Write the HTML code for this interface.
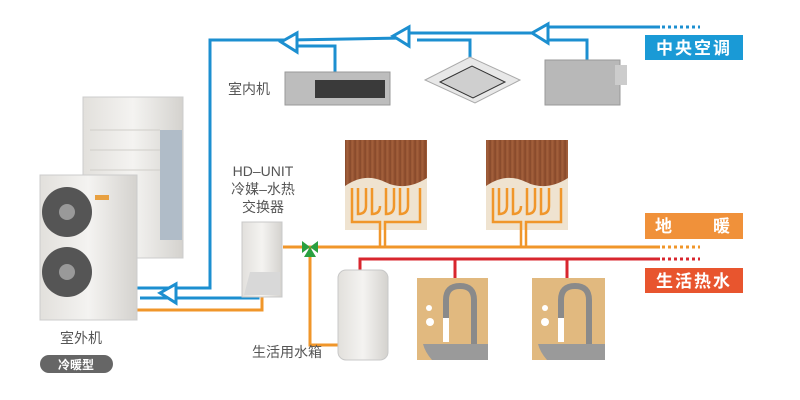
<!DOCTYPE html>
<html><head><meta charset="utf-8"><style>
body{margin:0;background:#fff}
svg{display:block}
text{font-family:"Liberation Sans","Noto Sans CJK SC",sans-serif}
</style></head><body>
<svg width="800" height="400" viewBox="0 0 800 400" xmlns="http://www.w3.org/2000/svg">
<defs>
<linearGradient id="wood" x1="0" x2="1"><stop offset="0" stop-color="#8e4e2e"/><stop offset="0.5" stop-color="#a3603c"/><stop offset="1" stop-color="#8a4a2a"/></linearGradient>
<linearGradient id="gr" x1="0" x2="1"><stop offset="0" stop-color="#e2e0dc"/><stop offset="0.5" stop-color="#f4f3f1"/><stop offset="1" stop-color="#d4d2ce"/></linearGradient>
<pattern id="stripe" width="5" height="10" patternUnits="userSpaceOnUse"><rect width="5" height="10" fill="url(#wood)"/><rect width="1" height="10" fill="#7a4226" opacity=".35"/></pattern>
</defs>
<!-- blue lines -->
<g fill="none" stroke="#1c8fd0" stroke-width="3">
<polyline points="660,27 545,27 545,33 405,33 405,38 290,40 210,40 210,288 135,288"/>
<polyline points="547,40 587,40 587,60"/>
<polyline points="417,40 470,40 470,57"/>
<polyline points="297,46 335,46 335,72"/>
<polyline points="258,292 258,298 140,298"/>
</g>
<g fill="#fff" stroke="#1c8fd0" stroke-width="3">
<polygon points="532,33 548,24 548,43"/>
<polygon points="393,36 409,27 409,46"/>
<polygon points="281,42 297,33 297,52"/>
<polygon points="160,293 176,284 176,303"/>
</g>
<g stroke="#1c8fd0" stroke-width="3" stroke-dasharray="3,3"><line x1="662" y1="27" x2="700" y2="27"/></g>
<!-- orange -->
<g fill="none" stroke="#f0962a" stroke-width="3">
<polyline points="262,297 262,310 137,310"/>
<line x1="283" y1="247" x2="660" y2="247"/>
<polyline points="310,247 310,345 340,345"/>
</g>
<line x1="662" y1="247" x2="700" y2="247" stroke="#f0962a" stroke-width="3" stroke-dasharray="3,3"/>
<!-- red -->
<g fill="none" stroke="#d8262e" stroke-width="3">
<polyline points="360,276 360,259 660,259"/>
<line x1="455" y1="259" x2="455" y2="278"/>
<line x1="567" y1="259" x2="567" y2="278"/>
</g>
<line x1="662" y1="259" x2="700" y2="259" stroke="#d8262e" stroke-width="3" stroke-dasharray="3,3"/>
<!-- valve -->
<polygon points="302,241 310,247 302,253" fill="#2aa040"/><polygon points="318,241 310,247 318,253" fill="#2aa040"/><polygon points="304,257 310,247 316,257" fill="#2aa040"/>
<!-- floor panels -->
<g>
<rect x="345" y="140" width="82" height="90" fill="#efe3d0"/>
<path d="M345,140 H427 V178 Q405,192 385,182 Q365,172 345,186 Z" fill="url(#stripe)"/>
<rect x="486" y="140" width="82" height="90" fill="#efe3d0"/>
<path d="M486,140 H568 V178 Q546,192 526,182 Q506,172 486,186 Z" fill="url(#stripe)"/>
<g fill="none" stroke="#f0962a" stroke-width="2.5">
<path d="M352,188 V222 H380 V247 M358,188 V214 Q366,214 366,206 V188 M372,188 V214 Q380,214 380,206 M385,247 V222 H420 V188 M386,188 V214 Q394,214 394,206 V188 M400,188 V214 Q408,214 408,206 V188"/>
<path d="M493,188 V222 H521 V247 M499,188 V214 Q507,214 507,206 V188 M513,188 V214 Q521,214 521,206 M526,247 V222 H561 V188 M527,188 V214 Q535,214 535,206 V188 M541,188 V214 Q549,214 549,206 V188"/>
</g>
</g>
<!-- sinks -->
<g>
<rect x="417" y="278" width="71" height="82" fill="#e1b97f"/>
<rect x="532" y="278" width="73" height="82" fill="#e1b97f"/>
<path d="M446,318 V300 Q446,286 460,286 Q474,286 474,300 V345" fill="none" stroke="#8a8a8a" stroke-width="6"/>
<path d="M561,318 V300 Q561,286 575,286 Q589,286 589,300 V345" fill="none" stroke="#8a8a8a" stroke-width="6"/>
<rect x="443" y="318" width="6" height="24" fill="#fff"/><rect x="558" y="318" width="6" height="24" fill="#fff"/>
<path d="M423,344 H488 V360 H432 Q425,352 423,344Z" fill="#9a9a9a"/>
<path d="M538,344 H605 V360 H547 Q540,352 538,344Z" fill="#9a9a9a"/>
<circle cx="430" cy="322" r="4" fill="#fff"/><circle cx="429" cy="308" r="3" fill="#fff"/><circle cx="545" cy="322" r="4" fill="#fff"/><circle cx="545" cy="308" r="3" fill="#fff"/>
</g>
<!-- tank -->
<rect x="338" y="270" width="50" height="90" rx="8" fill="url(#gr)" stroke="#c8c8c8"/>
<!-- HD unit -->
<rect x="242" y="222" width="40" height="75" fill="url(#gr)" stroke="#c8c8c8"/>
<path d="M244,295 L250,272 H280 V295Z" fill="#d8d8d8"/>
<!-- indoor units -->
<rect x="285" y="72" width="105" height="33" fill="#bdbdbd" stroke="#999"/>
<rect x="315" y="80" width="70" height="18" fill="#3a3a3a"/>
<path d="M425,80 L470,57 L520,80 L475,103Z" fill="#e8e8e8" stroke="#aaa"/>
<path d="M440,82 L472,66 L505,82 L473,98Z" fill="#cfcfcf" stroke="#333"/>
<rect x="545" y="60" width="75" height="45" fill="#b8b8b8" stroke="#999"/>
<rect x="615" y="65" width="12" height="20" fill="#ccc"/>
<!-- outdoor units -->
<rect x="83" y="97" width="100" height="161" fill="url(#gr)" stroke="#ccc"/>
<g stroke="#d0cec9" stroke-width="1"><line x1="90" y1="130" x2="160" y2="130"/><line x1="90" y1="150" x2="160" y2="150"/><line x1="90" y1="170" x2="160" y2="170"/></g>
<rect x="160" y="130" width="22" height="110" fill="#b0bcc8"/>
<rect x="40" y="175" width="97" height="145" fill="url(#gr)" stroke="#ccc"/>
<circle cx="67" cy="212" r="25" fill="#555"/><circle cx="67" cy="212" r="8" fill="#999"/>
<circle cx="67" cy="272" r="25" fill="#555"/><circle cx="67" cy="272" r="8" fill="#999"/>
<rect x="95" y="195" width="14" height="5" fill="#e8a040"/>
<!-- labels -->
<rect x="645" y="35" width="98" height="25" fill="#1a9ad6"/>
<text x="694" y="54" font-size="17" font-weight="bold" fill="#fff" text-anchor="middle" letter-spacing="2">中央空调</text>
<rect x="645" y="213" width="98" height="26" fill="#f0913a"/>
<text x="655" y="232" font-size="17" font-weight="bold" fill="#fff">地</text><text x="713" y="232" font-size="17" font-weight="bold" fill="#fff">暖</text>
<rect x="645" y="268" width="98" height="25" fill="#e8552e"/>
<text x="694" y="287" font-size="17" font-weight="bold" fill="#fff" text-anchor="middle" letter-spacing="2">生活热水</text>
<g font-size="14" fill="#555">
<text x="228" y="94">室内机</text>
<text x="60" y="343">室外机</text>
<text x="263" y="176" text-anchor="middle">HD–UNIT</text>
<text x="263" y="194" text-anchor="middle">冷媒–水热</text>
<text x="263" y="212" text-anchor="middle">交换器</text>
<text x="252" y="357">生活用水箱</text>
</g>
<rect x="40" y="355" width="73" height="18" rx="9" fill="#666"/>
<text x="76" y="369" font-size="12" font-weight="bold" fill="#fff" text-anchor="middle">冷暖型</text>
</svg>
</body></html>
